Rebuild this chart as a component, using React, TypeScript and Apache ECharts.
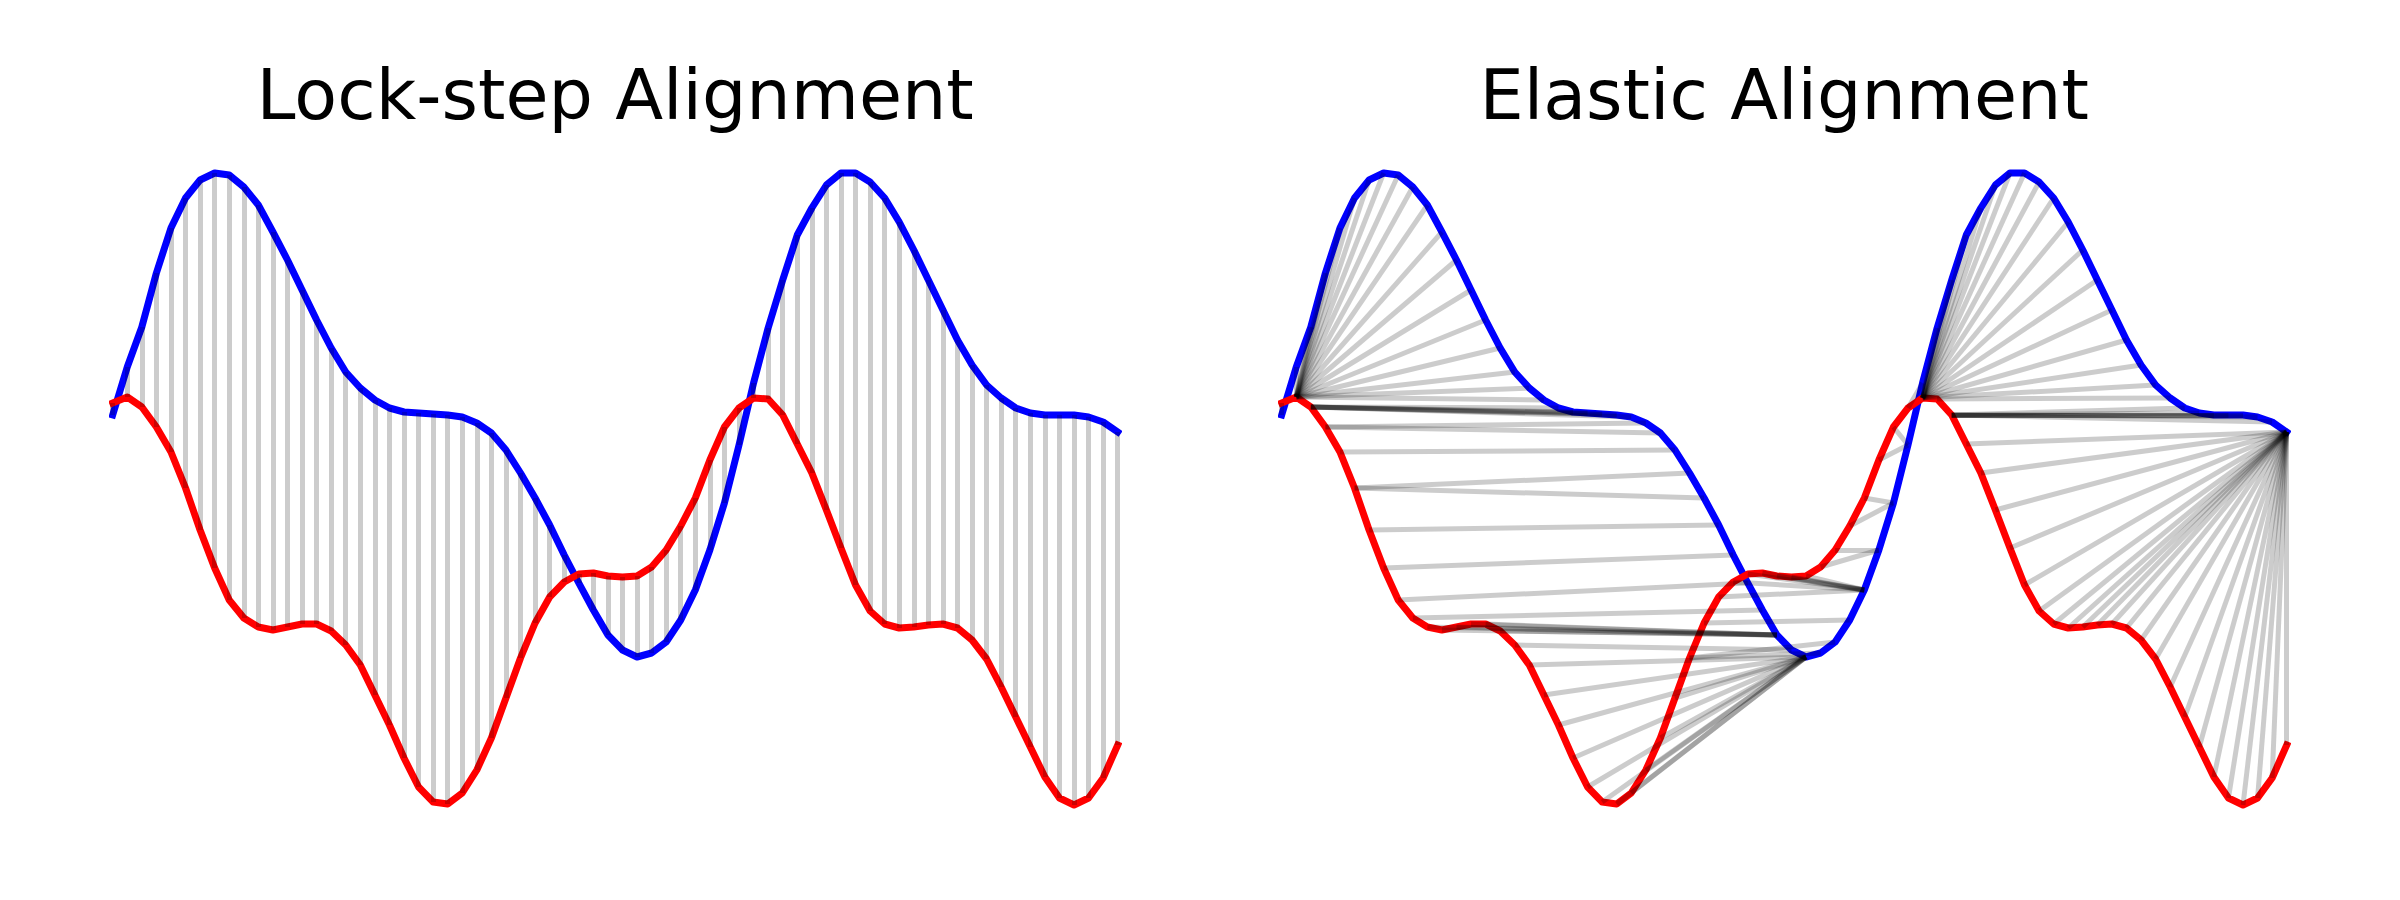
import React, { useEffect, useRef } from 'react';
import * as echarts from 'echarts';

// Values (arbitrary units), one per sample index 0..69
const blueSeries: number[] = [
  0.01, 0.49, 0.89, 1.43, 1.88, 2.18, 2.36, 2.43, 2.41, 2.29,
  2.11, 1.84, 1.56, 1.26, 0.96, 0.68, 0.44, 0.28, 0.16, 0.08,
  0.04, 0.03, 0.02, 0.01, -0.01, -0.07, -0.17, -0.34, -0.57, -0.82,
  -1.09, -1.39, -1.67, -1.94, -2.19, -2.34, -2.41, -2.37, -2.26, -2.04,
  -1.74, -1.34, -0.87, -0.29, 0.33, 0.88, 1.36, 1.81, 2.08, 2.31,
  2.43, 2.43, 2.34, 2.18, 1.94, 1.66, 1.36, 1.06, 0.76, 0.51,
  0.31, 0.18, 0.08, 0.03, 0.01, 0.01, 0.01, -0.01, -0.06, -0.16,
];

const redSeries: number[] = [
  0.13, 0.19, 0.09, -0.11, -0.36, -0.72, -1.14, -1.52, -1.84, -2.02,
  -2.11, -2.14, -2.11, -2.08, -2.08, -2.15, -2.29, -2.49, -2.79, -3.09,
  -3.42, -3.71, -3.86, -3.88, -3.77, -3.54, -3.22, -2.82, -2.42, -2.07,
  -1.81, -1.66, -1.58, -1.57, -1.6, -1.61, -1.6, -1.51, -1.34, -1.1,
  -0.82, -0.44, -0.11, 0.08, 0.18, 0.17, 0.01, -0.28, -0.57, -0.94,
  -1.32, -1.69, -1.95, -2.08, -2.12, -2.11, -2.09, -2.08, -2.12, -2.24,
  -2.43, -2.71, -3.01, -3.31, -3.61, -3.82, -3.89, -3.82, -3.62, -3.29,
];

const panelTitles: string[] = ['Lock-step Alignment', 'Elastic Alignment'];

type Pair = [number, number];

// Dynamic time warping path between the two series (pairs of blue index, red index)
function dtwPath(a: number[], b: number[]): Pair[] {
  const n = a.length;
  const m = b.length;
  const D: number[][] = [];
  for (let i = 0; i <= n; i++) D.push(new Array(m + 1).fill(Infinity));
  D[0][0] = 0;
  for (let i = 1; i <= n; i++) {
    for (let j = 1; j <= m; j++) {
      const d = a[i - 1] - b[j - 1];
      D[i][j] = d * d + Math.min(D[i - 1][j - 1], D[i - 1][j], D[i][j - 1]);
    }
  }
  const path: Pair[] = [];
  let i = n;
  let j = m;
  while (i > 0 && j > 0) {
    path.push([i - 1, j - 1]);
    if (i === 1 && j === 1) break;
    const diag = D[i - 1][j - 1];
    const up = D[i - 1][j];
    const left = D[i][j - 1];
    if (diag <= up && diag <= left) {
      i--;
      j--;
    } else if (up <= left) {
      i--;
    } else {
      j--;
    }
  }
  return path.reverse();
}

export default function App() {
  const ref = useRef<HTMLDivElement>(null);

  useEffect(() => {
    if (!ref.current) return;
    const chart = echarts.init(ref.current, null, { renderer: 'svg' });

    const bluePts = blueSeries.map((v, i) => [i, v]);
    const redPts = redSeries.map((v, i) => [i, v]);
    const lockPairs: Pair[] = blueSeries.map((_, i) => [i, i] as Pair);
    const elasticPairs = dtwPath(blueSeries, redSeries);
    const toLines = (pairs: Pair[]) =>
      pairs.map(([i, j]) => ({ coords: [[i, blueSeries[i]], [j, redSeries[j]]] }));

    const gridLefts = [112.7, 1281.7];
    const gridWidth = 1005;
    const yMin = -4.14;
    const yMax = 2.66;

    const grids = gridLefts.map((l) => ({ left: l, top: 150, width: gridWidth, height: 680, containLabel: false }));
    const xAxes = gridLefts.map((_, k) => ({ type: 'value', gridIndex: k, min: 0, max: blueSeries.length - 1, show: false }));
    const yAxes = gridLefts.map((_, k) => ({ type: 'value', gridIndex: k, min: yMin, max: yMax, show: false }));

    const series: any[] = [];
    [lockPairs, elasticPairs].forEach((pairs, k) => {
      series.push({
        type: 'line',
        xAxisIndex: k,
        yAxisIndex: k,
        data: bluePts,
        symbol: 'none',
        showSymbol: false,
        clip: false,
        silent: true,
        z: 2,
        lineStyle: { color: '#0000ff', width: 7, cap: 'square', join: 'round' },
      });
      series.push({
        type: 'line',
        xAxisIndex: k,
        yAxisIndex: k,
        data: redPts,
        symbol: 'none',
        showSymbol: false,
        clip: false,
        silent: true,
        z: 3,
        lineStyle: { color: '#ff0000', width: 7, cap: 'square', join: 'round' },
      });
      series.push({
        type: 'lines',
        coordinateSystem: 'cartesian2d',
        xAxisIndex: k,
        yAxisIndex: k,
        data: toLines(pairs),
        silent: true,
        z: 4,
        symbol: 'none',
        lineStyle: { color: 'rgba(0,0,0,0.2)', width: 5, curveness: 0, opacity: 1 },
      });
    });

    const centers = gridLefts.map((l) => l + gridWidth / 2);

    chart.setOption({
      animation: false,
      backgroundColor: '#ffffff',
      title: panelTitles.map((t, k) => ({
        text: t,
        left: centers[k],
        top: 60,
        padding: 0,
        textAlign: 'center',
        textStyle: { fontFamily: 'DejaVu Sans', fontSize: 70, fontWeight: 'normal', color: '#000000' },
      })),
      grid: grids,
      xAxis: xAxes,
      yAxis: yAxes,
      tooltip: { show: false },
      series,
    });

    return () => {
      chart.dispose();
    };
  }, []);

  return (
    <div
      ref={ref}
      style={{ position: 'absolute', left: 0, top: 0, width: 2400, height: 900, background: '#fff' }}
    />
  );
}
